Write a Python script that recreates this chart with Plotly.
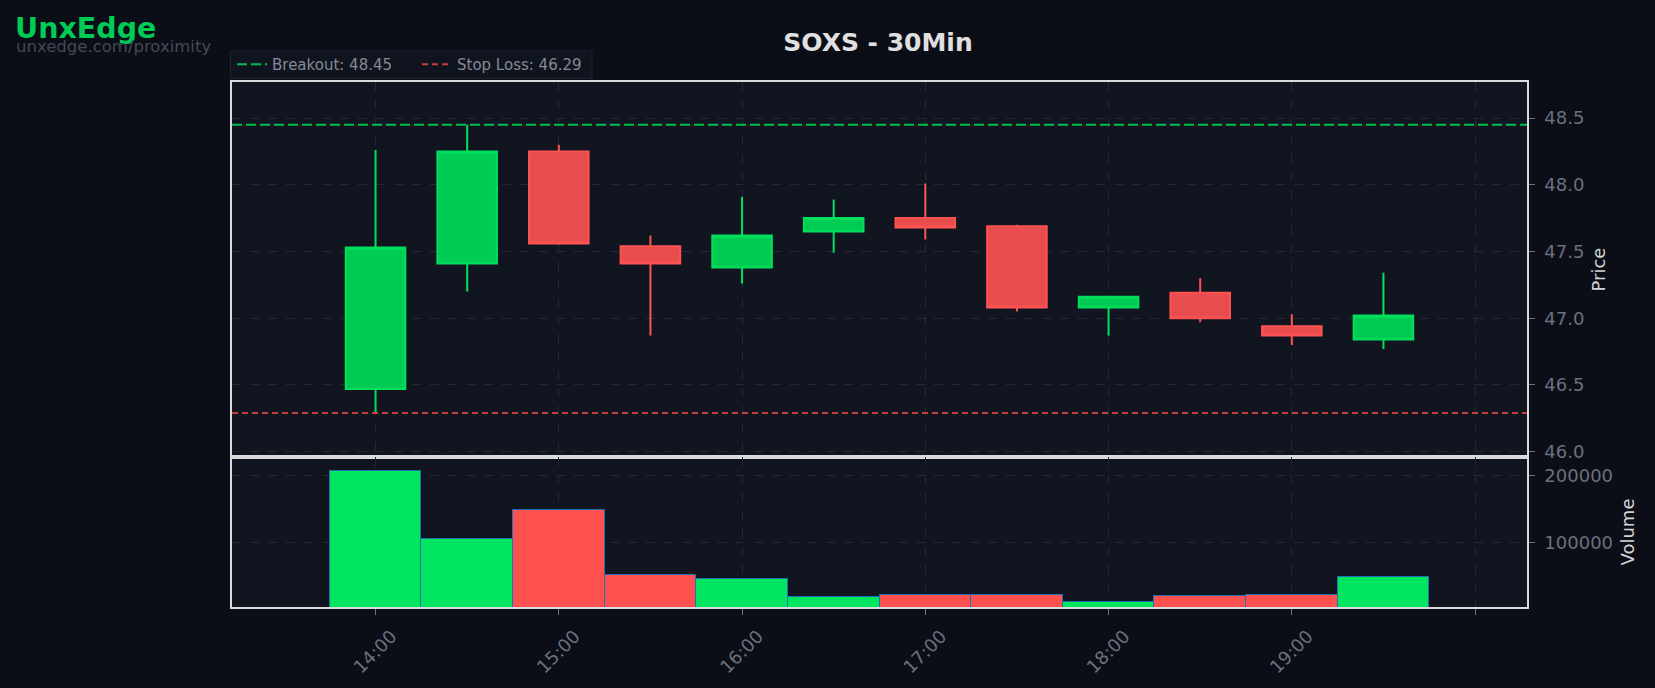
import pandas as pd
import plotly.graph_objects as go
from plotly.subplots import make_subplots

# ---------------- data ----------------
times = ["14:00", "14:30", "15:00", "15:30", "16:00", "16:30",
         "17:00", "17:30", "18:00", "18:30", "19:00", "19:30"]
open_ = [46.47, 47.41, 48.25, 47.54, 47.38, 47.65, 47.75, 47.69, 47.08, 47.19, 46.94, 46.84]
high = [48.26, 48.45, 48.30, 47.62, 47.91, 47.89, 48.01, 47.70, 47.16, 47.30, 47.03, 47.34]
low = [46.29, 47.20, 47.55, 46.87, 47.26, 47.49, 47.59, 47.05, 46.87, 46.97, 46.80, 46.77]
close = [47.53, 48.25, 47.56, 47.41, 47.62, 47.75, 47.68, 47.08, 47.16, 47.00, 46.87, 47.02]
volume = [207000, 105500, 148500, 52500, 45500, 18500, 22500, 22500, 12000, 20000, 22500, 48500]
hour_ticks = ["14:00", "15:00", "16:00", "17:00", "18:00", "19:00", "20:00"]
hour_labels = ["14:00", "15:00", "16:00", "17:00", "18:00", "19:00", ""]
breakout = 48.45
stop_loss = 46.29
ticker = "SOXS"
interval = "30Min"

# ---------------- styling ----------------
W, H = 1655, 688
ML, MR, MT, MB = 232, 128, 82, 81
PAPER_BG = "#0B0E17"
PLOT_BG = "#111520"
GRID = "#232836"
TICK_C = "#6B707C"
FONT = "DejaVu Sans"
INC_LINE, INC_FILL = "#00E05C", "#00CC55"
DEC_LINE, DEC_FILL = "#FF5252", "#E84C4C"
VOL_UP, VOL_DN = "#00E660", "#FF5050"

day = "2025-01-15 "
x = pd.to_datetime([day + t for t in times])
xt = pd.to_datetime([day + t for t in hour_ticks])
pad = pd.Timedelta(minutes=47)
xrange_ = [x[0] - pad, x[-1] + pad]

plot_w = W - ML - MR
plot_h = H - MT - MB
vol_frac = 150 / plot_h


def px_x(p):
    return (p - ML) / plot_w


def px_y(p):
    return (H - MB - p) / plot_h


fig = make_subplots(rows=2, cols=1, shared_xaxes=True, vertical_spacing=0,
                    row_heights=[1 - vol_frac, vol_frac])

fig.add_trace(go.Candlestick(
    x=x, open=open_, high=high, low=low, close=close,
    increasing=dict(line=dict(color=INC_LINE, width=2), fillcolor=INC_FILL),
    decreasing=dict(line=dict(color=DEC_LINE, width=2), fillcolor=DEC_FILL),
    showlegend=False, name=ticker), row=1, col=1)

vol_colors = [VOL_UP if c >= o else VOL_DN for o, c in zip(open_, close)]
fig.add_trace(go.Bar(
    x=x, y=volume, marker=dict(color=vol_colors, line=dict(color="#1f6fb4", width=1)),
    showlegend=False, name="Volume"), row=2, col=1)

fig.add_hline(y=breakout, row=1, col=1, line=dict(color="#00BE50", width=2, dash="10px,4px"),
              showlegend=True, name=f"Breakout: {breakout:.2f}")
fig.add_hline(y=stop_loss, row=1, col=1, line=dict(color="#C83E3E", width=2, dash="6px,4px"),
              showlegend=True, name=f"Stop Loss: {stop_loss:.2f}")

# legend backdrop box
fig.add_shape(type="rect", xref="paper", yref="paper",
              x0=px_x(230.5), x1=px_x(592), y0=px_y(78.3), y1=px_y(50.7),
              fillcolor="#10141F", line=dict(color="#1E2330", width=1), layer="below")

axis_common = dict(showline=True, linecolor="#DADADA", linewidth=1.5, mirror=True,
                   gridcolor=GRID, griddash="dash", gridwidth=1,
                   tickfont=dict(family=FONT, size=18, color=TICK_C),
                   ticks="outside", tickcolor="#6B707C", ticklen=6, zeroline=False)

fig.update_xaxes(**axis_common, type="date", range=xrange_,
                 tickvals=xt, ticktext=hour_labels, rangeslider_visible=False)
fig.update_xaxes(tickangle=-45, ticklabelshift=16, ticklabelstandoff=4, row=2, col=1)
fig.update_xaxes(showticklabels=False, ticks="", row=1, col=1)

fig.update_yaxes(**axis_common, side="right", ticklabelstandoff=6)
fig.update_yaxes(range=[45.96, 48.77], dtick=0.5, tickformat=".1f", row=1, col=1,
                 title=dict(text="Price", standoff=9,
                            font=dict(family=FONT, size=18, color="#D4D4D4")))
fig.update_yaxes(range=[4000, 228000], dtick=100000, tickformat="d", row=2, col=1,
                 title=dict(text="Volume", standoff=9,
                            font=dict(family=FONT, size=18, color="#D4D4D4")))

fig.update_layout(
    width=W, height=H,
    margin=dict(l=ML, r=MR, t=MT, b=MB),
    paper_bgcolor=PAPER_BG, plot_bgcolor=PLOT_BG,
    bargap=0, boxgap=0.35, boxgroupgap=0,
    font=dict(family=FONT, color=TICK_C),
    title=dict(text=f"{ticker} - {interval}", x=px_x(878), xref="paper",
               y=1 - 42 / H, yref="container", xanchor="center", yanchor="middle",
               font=dict(family=FONT, size=25, color="#E0E0E0", weight="bold")),
    legend=dict(orientation="h", x=0, xanchor="left", y=px_y(64.5), yanchor="middle",
                bgcolor="rgba(0,0,0,0)", borderwidth=0, entrywidth=140,
                font=dict(family=FONT, size=15, color="#858A96")),
    annotations=[
        dict(text="<b>UnxEdge</b>", xref="paper", yref="paper", x=px_x(13), y=px_y(28),
             xanchor="left", yanchor="middle", showarrow=False,
             font=dict(family=FONT, size=28.5, color="#00CC55")),
        dict(text="unxedge.com/proximity", xref="paper", yref="paper", x=px_x(14), y=px_y(46.5),
             xanchor="left", yanchor="middle", showarrow=False,
             font=dict(family=FONT, size=16.5, color="#434956")),
    ],
)

fig.write_html("out.html", config={"displayModeBar": False},
               post_script="document.body.style.margin='0';")
